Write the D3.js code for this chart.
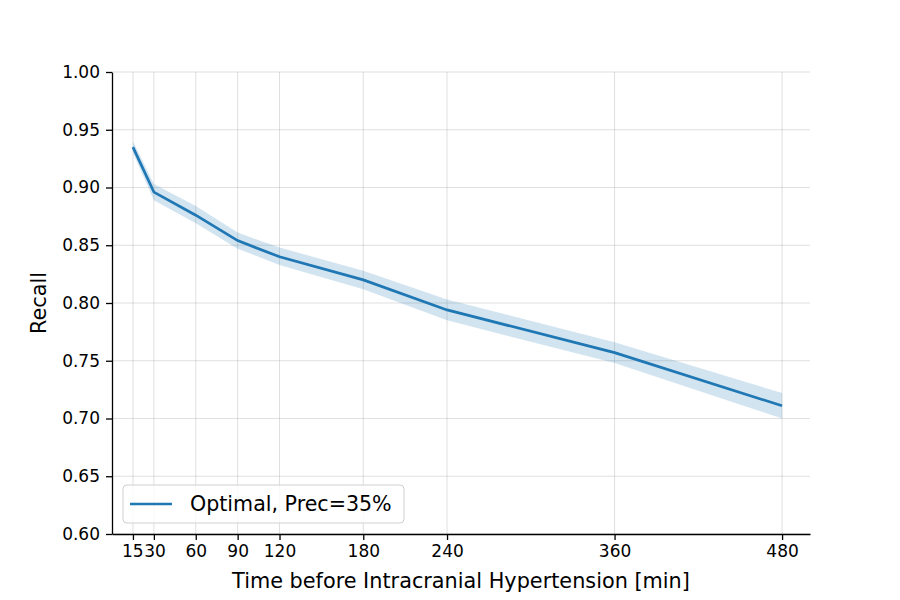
<!DOCTYPE html>
<html>
<head>
<meta charset="utf-8">
<script src="https://cdn.jsdelivr.net/npm/d3@7"></script>
<style>
  body { margin: 0; background: #fff; }
  text { font-family: "DejaVu Sans"; }
</style>
</head>
<body>
<div id="chart"></div>
<script>
const minutes = [15, 30, 60, 90, 120, 180, 240, 360, 480]
const recall = [0.935, 0.896, 0.876, 0.854, 0.840, 0.820, 0.794, 0.757, 0.711]
const recallLow = [0.930, 0.889, 0.869, 0.847, 0.833, 0.812, 0.785, 0.748, 0.700]
const recallHigh = [0.940, 0.903, 0.884, 0.861, 0.848, 0.828, 0.803, 0.766, 0.722]
const xTicks = [15, 30, 60, 90, 120, 180, 240, 360, 480]
const yTicks = [0.60, 0.65, 0.70, 0.75, 0.80, 0.85, 0.90, 0.95, 1.00]

const width = 900, height = 600
const margin = {top: 72, right: 90, bottom: 66, left: 112}
const font = "DejaVu Sans"

const data = minutes.map((m, i) => ({m, r: recall[i], lo: recallLow[i], hi: recallHigh[i]}))

const svg = d3.select("#chart").append("svg")
  .attr("width", width).attr("height", height)

const x = d3.scaleLinear().domain([0, 500])
  .range([margin.left, width - margin.right])
const y = d3.scaleLinear().domain([0.6, 1.0])
  .range([height - margin.bottom, margin.top])

// grid
svg.append("g")
  .selectAll("line").data(xTicks).join("line")
  .attr("x1", d => x(d)).attr("x2", d => x(d))
  .attr("y1", margin.top).attr("y2", height - margin.bottom)
  .attr("stroke", "#b0b0b0").attr("stroke-opacity", 0.5).attr("stroke-width", 0.8)
svg.append("g")
  .selectAll("line").data(yTicks).join("line")
  .attr("x1", margin.left).attr("x2", width - margin.right)
  .attr("y1", d => y(d)).attr("y2", d => y(d))
  .attr("stroke", "#b0b0b0").attr("stroke-opacity", 0.5).attr("stroke-width", 0.8)

// band
const area = d3.area().x(d => x(d.m)).y0(d => y(d.lo)).y1(d => y(d.hi))
svg.append("path")
  .attr("d", area(data))
  .attr("fill", "#1f77b4").attr("fill-opacity", 0.2)

const line = d3.line().x(d => x(d.m)).y(d => y(d.r))
svg.append("path")
  .attr("d", line(data))
  .attr("fill", "none").attr("stroke", "#1f77b4").attr("stroke-width", 2.7)

// axes
const xAxis = svg.append("g")
  .attr("transform", `translate(0, ${height - margin.bottom})`)
  .call(d3.axisBottom(x).tickValues(xTicks).tickSize(6).tickSizeOuter(0).tickPadding(5))
  .attr("font-family", font)
xAxis.select(".domain").attr("stroke-width", 1.3)
xAxis.selectAll(".tick line").attr("stroke-width", 1.3)
xAxis.selectAll("text").attr("font-size", 17).attr("fill", "#000")
// "15" and "30" sit almost touching, as in the original
xAxis.selectAll(".tick").filter(d => d === 15).select("text").attr("dx", -0.6)
xAxis.selectAll(".tick").filter(d => d === 30).select("text").attr("dx", 0.6)

const yAxis = svg.append("g")
  .attr("transform", `translate(${margin.left}, 0)`)
  .call(d3.axisLeft(y).tickValues(yTicks).tickFormat(d3.format(".2f")).tickSize(6).tickSizeOuter(0).tickPadding(6))
  .attr("font-family", font)
yAxis.select(".domain").attr("stroke-width", 1.3)
yAxis.selectAll(".tick line").attr("stroke-width", 1.3)
yAxis.selectAll("text").attr("font-size", 17).attr("fill", "#000")

svg.append("text")
  .attr("x", (margin.left + width - margin.right) / 2)
  .attr("y", height - 12)
  .attr("text-anchor", "middle")
  .attr("font-family", font)
  .attr("font-size", 20.8)
  .text("Time before Intracranial Hypertension [min]")

svg.append("text")
  .attr("transform", `translate(46, ${(margin.top + height - margin.bottom) / 2}) rotate(-90)`)
  .attr("text-anchor", "middle")
  .attr("font-family", font)
  .attr("font-size", 20.8)
  .text("Recall")

// legend
const legend = svg.append("g").attr("transform", `translate(123, 485)`)
legend.append("rect")
  .attr("width", 281).attr("height", 38).attr("rx", 4)
  .attr("fill", "#fff").attr("fill-opacity", 0.8)
  .attr("stroke", "#d0d0d0")
legend.append("line")
  .attr("x1", 7).attr("x2", 49).attr("y1", 19).attr("y2", 19)
  .attr("stroke", "#1f77b4").attr("stroke-width", 2.7)
legend.append("text")
  .attr("x", 67).attr("y", 26)
  .attr("font-family", font)
  .attr("font-size", 20.6)
  .text("Optimal, Prec=35%")
</script>
</body>
</html>
